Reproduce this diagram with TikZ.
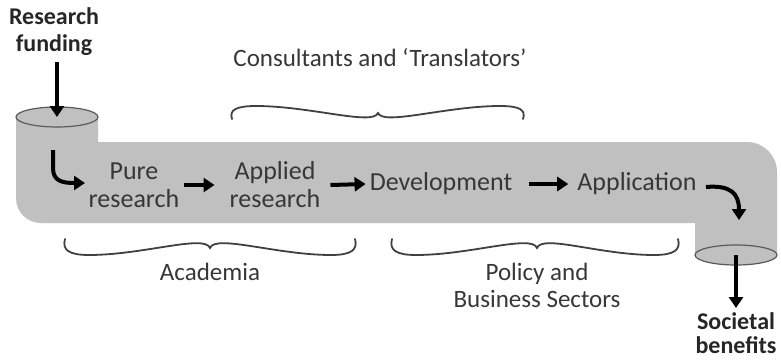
\documentclass[tikz,border=0pt]{standalone}
\usepackage{fontspec}
\setmainfont{Carlito}
\usetikzlibrary{arrows.meta,shapes.geometric}
\definecolor{pipegray}{RGB}{192,192,192}
\definecolor{rimgray}{RGB}{90,90,90}
\definecolor{txtgray}{RGB}{55,55,55}
\tikzset{
  flowarrow/.style={line width=4pt, -{Triangle[length=11pt,width=14pt]}, black},
  stagetext/.style={text=txtgray, font=\fontsize{26}{28}\selectfont, align=center, inner sep=0pt},
  labeltext/.style={text=txtgray, font=\fontsize{25}{27}\selectfont, align=center, inner sep=0pt},
  boldtext/.style={text=black!85, font=\bfseries\fontsize{24}{27}\selectfont, align=center, inner sep=0pt},
  capstyle/.style={ellipse, draw=rimgray, line width=1.2pt, fill=pipegray, minimum width=82pt, minimum height=20pt, inner sep=0pt},
  braceline/.style={draw=black!75, line width=1.8pt, line cap=round}
}
\begin{document}
\begin{tikzpicture}[x=1pt,y=-1pt]
\useasboundingbox (0,0) rectangle (781,362);
% pipe body
\fill[pipegray] (16,117) -- (16,198) .. controls (16,212) and (27,223) .. (41,223)
  -- (695,223) -- (695,255)
  .. controls (695,260.5) and (713.4,265) .. (736,265)
  .. controls (758.6,265) and (777,260.5) .. (777,255)
  -- (777,172) .. controls (777,155.4) and (763.6,142) .. (747,142)
  -- (98,142) -- (98,117) -- cycle;
\node[capstyle] (topcap) at (57,117) {};
\node[capstyle] (botcap) at (736,255) {};
% labels outside
\node[boldtext] (fund) at (54,32) {Research\\funding};
\node[boldtext, font=\bfseries\fontsize{24}{24}\selectfont] (soc) at (736,333) {Societal\\benefits};
\node[labeltext] (cons) at (380,58) {Consultants and `Translators'};
\node[labeltext] (acad) at (210,272) {Academia};
\node[labeltext] (policy) at (537,285) {Policy and\\Business Sectors};
% stages
\node[stagetext] (pure) at (134,185) {Pure\\research};
\node[stagetext] (applied) at (275,185) {Applied\\research};
\node[stagetext] (dev) at (441,184) {Development};
\node[stagetext] (app) at (637,184) {Application};
% arrows
\coordinate (fundtop) at (57,62);
\draw[flowarrow] (fundtop) -- (topcap.center);
\coordinate (socarrowtip) at (736,308);
\draw[flowarrow] (botcap.center) -- (socarrowtip);
\coordinate (inA) at (53,150);
\coordinate (inB) at (85,183);
\draw[flowarrow] (inA) -- (53,168) .. controls (53,181) and (62,183) .. (inB);
\draw[flowarrow] ([xshift=5pt]pure.east) -- ([xshift=-15pt]applied.west);
\draw[flowarrow] ([xshift=10pt]applied.east) -- ([xshift=-4pt]dev.west);
\draw[flowarrow] ([xshift=17pt]dev.east) -- ([xshift=-9pt]app.west);
\coordinate (outA) at (706,187);
\coordinate (outB) at (739,220);
\draw[flowarrow] (outA) .. controls (730,185) and (739,193) .. (outB);
% braces
\draw[braceline] (232,119) .. controls (229,110) and (236,106) .. (256,106)
  .. controls (310,106) and (373,126) .. (378,113)
  .. controls (383,126) and (446,106) .. (500,106)
  .. controls (520,106) and (526,110) .. (523,119);
\draw[braceline] (65,239) .. controls (62,250) and (69,255) .. (89,255)
  .. controls (143,255) and (205,234) .. (210,248)
  .. controls (215,234) and (277,255) .. (331,255)
  .. controls (351,255) and (358,250) .. (355,239);
\draw[braceline] (392,239) .. controls (389,250) and (396,255) .. (416,255)
  .. controls (470,255) and (532,234) .. (537,248)
  .. controls (542,234) and (600,255) .. (654,255)
  .. controls (674,255) and (681,250) .. (678,239);
\end{tikzpicture}
\end{document}
